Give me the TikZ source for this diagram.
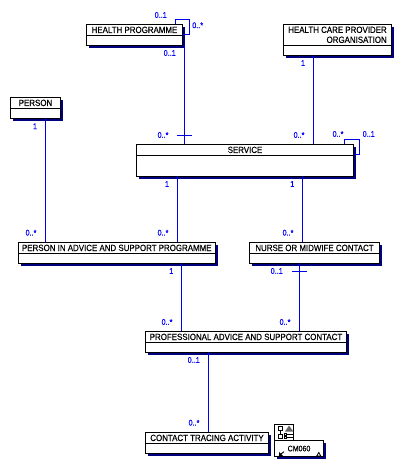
\documentclass[tikz,border=0pt]{standalone}
\usepackage{fontspec}
\setmainfont{Liberation Sans}
\newfontfamily\umlfont[FakeStretch=.88,FakeBold=.4]{Liberation Sans}
\usetikzlibrary{positioning,shadows}
\definecolor{assoc}{HTML}{0000E8}
\definecolor{shade}{HTML}{000080}

\begin{document}
\begin{tikzpicture}[x=1pt,y=-1pt,
 cl/.style={draw,fill=white,line width=1pt,outer sep=0pt,inner sep=0pt,
 drop shadow={shadow xshift=2.6pt,shadow yshift=-2.6pt,fill=shade,opacity=1}},
 hd/.style={draw,line width=1pt,outer sep=0pt,inner sep=0pt,minimum height=11pt,
 align=right,font=\umlfont\fontsize{9}{10}\selectfont},
 as/.style={draw=assoc,line width=1.1pt},
 mul/.style={text=blue,inner sep=0pt,font=\umlfont\fontsize{8.2}{9}\selectfont}]
\useasboundingbox (0,0) rectangle (405,470);
% classes
\node[cl,minimum width=96.4pt,minimum height=21pt] (hp) at (134.5,34.8) {};
\node[hd,minimum width=96.4pt,text height=6.4pt,text depth=0pt,below=0pt of hp.north] (hpt) {HEALTH PROGRAMME};
\node[cl,minimum width=108.4pt,minimum height=31pt] (hcpo) at (337.5,39.8) {};
\node[hd,minimum width=108.4pt,minimum height=21pt,below=0pt of hcpo.north] (hcpot) {HEALTH CARE PROVIDER\\ORGANISATION};
\node[cl,minimum width=50.4pt,minimum height=21pt] (person) at (35.5,107.8) {};
\node[hd,minimum width=50.4pt,text height=6.4pt,text depth=0pt,below=0pt of person.north] (persont) {PERSON};
\node[cl,minimum width=217.4pt,minimum height=32pt] (svc) at (245,160.3) {};
\node[hd,minimum width=217.4pt,text height=6.4pt,text depth=0pt,below=0pt of svc.north] (svct) {SERVICE};
\node[cl,minimum width=197pt,minimum height=21pt] (piasp) at (116.8,252.8) {};
\node[hd,minimum width=197pt,text height=6.4pt,text depth=0pt,below=0pt of piasp.north] (piaspt) {PERSON IN ADVICE AND SUPPORT PROGRAMME};
\node[cl,minimum width=130.4pt,minimum height=21pt] (nurse) at (314.5,252.8) {};
\node[hd,minimum width=130.4pt,text height=6.4pt,text depth=0pt,below=0pt of nurse.north] (nurset) {NURSE OR MIDWIFE CONTACT};
\node[cl,minimum width=201.4pt,minimum height=21pt] (pasc) at (246,341.8) {};
\node[hd,minimum width=201.4pt,text height=6.4pt,text depth=0pt,below=0pt of pasc.north] (pasct) {PROFESSIONAL ADVICE AND SUPPORT CONTACT};
\node[cl,minimum width=123.4pt,minimum height=21pt] (cta) at (207,442.8) {};
\node[hd,minimum width=123.4pt,text height=6.4pt,text depth=0pt,below=0pt of cta.north] (ctat) {CONTACT TRACING ACTIVITY};
% associations
\draw[as] ([xshift=1.6pt]hp.south east) -- ([xshift=-60.7pt]svc.north);
\draw[as] ([xshift=41.2pt]hp.north) |- ++(14,-5) |- (hp.east);
\draw[as] ([xshift=-24.2pt]hcpo.south) -- ([xshift=68.3pt]svc.north);
\draw[as] ([xshift=9.8pt]person.south) -- ([xshift=-71.5pt]piasp.north);
\draw[as] ([xshift=-67.7pt]svc.south) -- ([xshift=60.5pt]piasp.north);
\draw[as] ([xshift=57.3pt]svc.south) -- ([xshift=-12.2pt]nurse.north);
\draw[as] ([xshift=99.3pt]svc.north) |- ++(15.4,-5) |- ([yshift=5.6pt]svc.east);
\draw[as] ([xshift=64.5pt]piasp.south) -- ([xshift=-64.7pt]pasc.north);
\draw[as] ([xshift=-15.2pt]nurse.south) -- ([xshift=53.3pt]pasc.north);
\draw[as] ([xshift=-37.7pt]pasc.south) -- ([xshift=1.3pt]cta.north);
% ticks
\coordinate (t1) at (184.3,135.3);
\coordinate (t2) at (299.3,271.3);
\draw[as] ([xshift=-7.5pt]t1) -- ([xshift=7.5pt]t1);
\draw[as] ([xshift=-7.5pt]t2) -- ([xshift=7.5pt]t2);
% multiplicities
\node[mul] (m1) at (160.7,15) {0..1};
\node[mul] (m2) at (197.7,25.3) {0..*};
\node[mul] (m3) at (169.7,53) {0..1};
\node[mul] (m4) at (35,126.3) {1};
\node[mul] (m5) at (163,135) {0..*};
\node[mul] (m6) at (303,63) {1};
\node[mul] (m7) at (299,135) {0..*};
\node[mul] (m8) at (338,134) {0..*};
\node[mul] (m9) at (368.7,134) {0..1};
\node[mul] (m10) at (167,184) {1};
\node[mul] (m11) at (292.3,184) {1};
\node[mul] (m12) at (31,232.7) {0..*};
\node[mul] (m13) at (163,232.7) {0..*};
\node[mul] (m14) at (288,232.7) {0..*};
\node[mul] (m15) at (171.3,271) {1};
\node[mul] (m16) at (276.7,271) {0..1};
\node[mul] (m17) at (167,322) {0..*};
\node[mul] (m18) at (285,322) {0..*};
\node[mul] (m19) at (193.7,360) {0..1};
\node[mul] (m20) at (194,422.7) {0..*};
% diagram reference
\node[draw,fill=white,line width=.9pt,outer sep=0pt,inner sep=0pt,minimum width=19.4pt,minimum height=16pt] (tab) at (284,432.3) {};
\node[cl,minimum width=49.4pt,minimum height=16pt,text height=9pt,text depth=3pt,font=\umlfont\fontsize{8}{9}\selectfont] (ref) at (299,448.3) {CM060};
\draw[line width=.7pt] (278.5,426.7) rectangle (282.3,430.7) (280.4,430.7) -- (280.4,434.7) (278.5,434.7) rectangle (282.3,438.7);
\fill[black!60] (285,431.5) -- (289,425.5) -- (293.3,431.5) -- cycle;
\draw[line width=.6pt] (284,433.5) rectangle (286.3,435.3) (284,436.7) rectangle (286.3,438.7) (287.3,434) -- (293,434) (287.3,437.3) -- (293,437.3);
\fill (279,452) -- (279,456) -- (283,456) -- cycle;
\draw[line width=.9pt] (279,455.5) -- (284,451.7);
\draw[line width=.8pt] (316.7,456) -- (318.8,452.5) -- (320.8,456) -- cycle;
\end{tikzpicture}
\end{document}
